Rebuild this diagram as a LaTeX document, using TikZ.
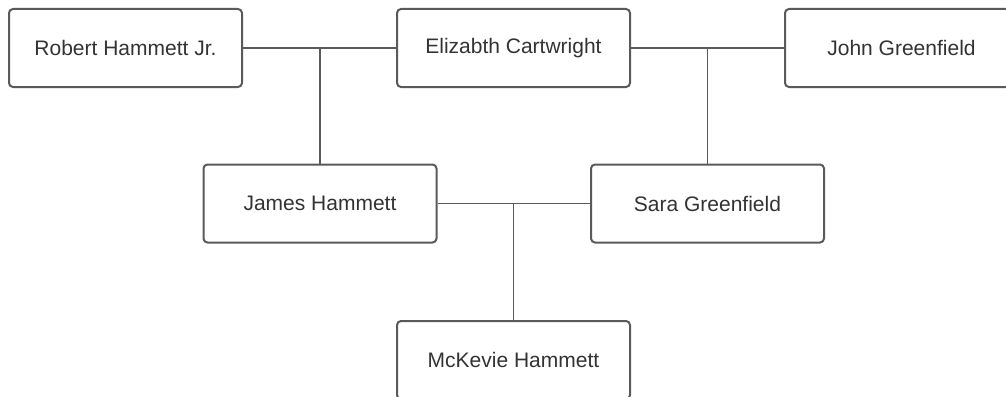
\documentclass[tikz,border=0pt]{standalone}
\usepackage{fontspec}
\setmainfont{Liberation Sans}
\definecolor{edge}{HTML}{5A5A5A}
\definecolor{txt}{HTML}{333333}
\begin{document}
\begin{tikzpicture}[x=1pt,y=-1pt,
  person/.style={draw=edge,line width=2pt,rounded corners=4pt,fill=white,
    minimum width=233pt,minimum height=78pt,inner sep=0pt,text=txt,
    font=\fontsize{21}{25}\selectfont},
  link/.style={draw=edge,line width=1.6pt}]
\useasboundingbox (0,0) rectangle (1006,396);
\clip (0,0) rectangle (1006,396);
\node[person] (rob) at (125.5,48) {Robert Hammett Jr.};
\node[person] (eli) at (513.5,48) {Elizabth Cartwright};
\node[person] (john) at (901.5,48) {John Greenfield};
\node[person] (james) at (320,203.5) {James Hammett};
\node[person] (sara) at (707.5,203.5) {Sara Greenfield};
\node[person] (mck) at (513.5,360) {McKevie Hammett};
\coordinate (j1) at (james.north |- rob.east);
\coordinate (j2) at (sara.north |- eli.east);
\coordinate (j3) at (mck.north |- james.east);
\draw[link] (rob.east) -- (eli.west);
\draw[link] (j1) -- (james.north);
\draw[link] (eli.east) -- (john.west);
\draw[link] (j2) -- (sara.north);
\draw[link] (james.east) -- (sara.west);
\draw[link] (j3) -- (mck.north);
\end{tikzpicture}
\end{document}
